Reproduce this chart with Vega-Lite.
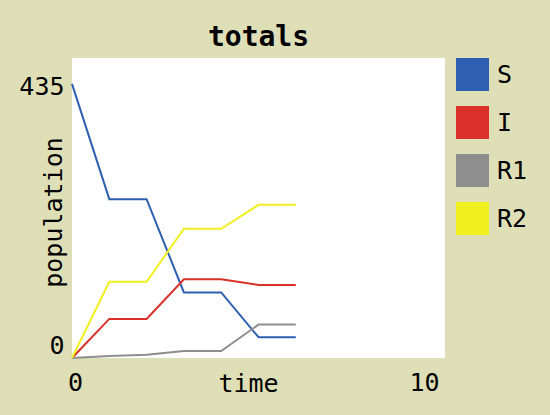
{
  "$schema": "https://vega.github.io/schema/vega-lite/v6.json",
  "width": 373,
  "height": 300,
  "autosize": {"type": "none"},
  "padding": {"left": 72, "top": 58, "right": 105, "bottom": 57},
  "background": "#dfdfb7",
  "title": {"text": "totals", "font": "DejaVu Sans Mono", "fontSize": 28, "fontWeight": "bold", "anchor": "middle", "frame": "group", "offset": -16, "baseline": "alphabetic", "color": "black"},
  "config": {
    "view": {"fill": "white", "stroke": null},
    "axis": {"domain": false, "grid": false, "ticks": false, "labelFont": "DejaVu Sans Mono", "labelFontSize": 25, "labelColor": "black", "titleFont": "DejaVu Sans Mono", "titleFontSize": 25, "titleFontWeight": "normal", "titleColor": "black"}
  },
  "data": {"values": [
    {"time": 0, "series": "S", "population": 435},
    {"time": 1, "series": "S", "population": 252},
    {"time": 2, "series": "S", "population": 252},
    {"time": 3, "series": "S", "population": 104},
    {"time": 4, "series": "S", "population": 104},
    {"time": 5, "series": "S", "population": 33},
    {"time": 6, "series": "S", "population": 33},
    {"time": 0, "series": "I", "population": 0},
    {"time": 1, "series": "I", "population": 62},
    {"time": 2, "series": "I", "population": 62},
    {"time": 3, "series": "I", "population": 125},
    {"time": 4, "series": "I", "population": 125},
    {"time": 5, "series": "I", "population": 116},
    {"time": 6, "series": "I", "population": 116},
    {"time": 0, "series": "R1", "population": 0},
    {"time": 1, "series": "R1", "population": 3},
    {"time": 2, "series": "R1", "population": 5},
    {"time": 3, "series": "R1", "population": 11},
    {"time": 4, "series": "R1", "population": 11},
    {"time": 5, "series": "R1", "population": 53},
    {"time": 6, "series": "R1", "population": 53},
    {"time": 0, "series": "R2", "population": 0},
    {"time": 1, "series": "R2", "population": 121},
    {"time": 2, "series": "R2", "population": 121},
    {"time": 3, "series": "R2", "population": 205},
    {"time": 4, "series": "R2", "population": 205},
    {"time": 5, "series": "R2", "population": 243},
    {"time": 6, "series": "R2", "population": 243}
  ]},
  "mark": {"type": "line", "strokeWidth": 2, "clip": false},
  "encoding": {
    "x": {"field": "time", "type": "quantitative",
      "scale": {"domain": [0, 10], "nice": false, "zero": false},
      "axis": {"values": [0, 10], "title": "time", "labelPadding": 24, "labelBaseline": "middle",
        "labelAlign": {"condition": {"test": "datum.value == 10", "value": "right"}, "value": "center"},
        "labelOffset": {"condition": {"test": "datum.value == 10", "value": -6}, "value": 3},
        "titleX": 176, "titleY": 25, "titleBaseline": "middle", "titleAlign": "center"}},
    "y": {"field": "population", "type": "quantitative",
      "scale": {"domain": [0, 476], "nice": false},
      "axis": {"values": [0, 435], "title": "population", "labelPadding": 8,
        "labelBaseline": {"condition": {"test": "datum.value == 0", "value": "bottom"}, "value": "middle"},
        "labelOffset": {"condition": {"test": "datum.value == 435", "value": 3}, "value": 0},
        "titleX": -19, "titleY": 154, "titleAngle": 270, "titleBaseline": "middle", "titleAlign": "center"}},
    "color": {"field": "series", "type": "nominal",
      "scale": {"domain": ["S", "I", "R1", "R2"], "range": ["#2f5fb0", "#d9302a", "#8e8e8e", "#f0f020"]},
      "legend": {"title": null, "orient": "right", "offset": 11, "padding": 0, "symbolType": "square", "symbolSize": 961,
        "symbolStrokeWidth": 2, "symbolStrokeColor": "black", "labelFont": "DejaVu Sans Mono", "labelFontSize": 25,
        "labelColor": "black", "labelOffset": 8, "rowPadding": 9,
        "encode": {"symbols": {"update": {"fill": {"scale": "color", "field": "value"}, "stroke": {"value": "black"}, "strokeWidth": {"value": 2}, "fillOpacity": {"value": 1}, "strokeOpacity": {"value": 1}, "opacity": {"value": 1}}}}}
    }
  }
}
